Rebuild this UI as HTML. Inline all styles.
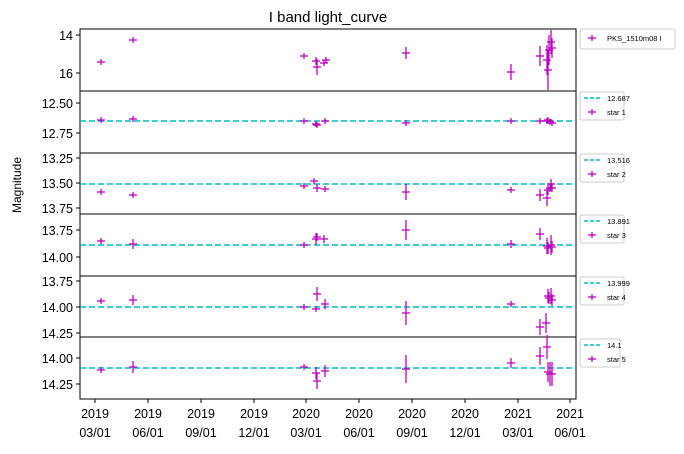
<!DOCTYPE html><html><head><style>body{margin:0;background:#fff}svg text{font-family:"Liberation Sans","DejaVu Sans",sans-serif}</style></head><body>
<svg width="684" height="449" xmlns="http://www.w3.org/2000/svg" font-size="13">
<text x="328" y="22" text-anchor="middle" font-size="15">I band light_curve</text>
<text transform="translate(21,185) rotate(-90)" text-anchor="middle" font-size="12">Magnitude</text>
<g stroke="#000" fill="none" stroke-width="1">
<rect x="80" y="29" width="496" height="62"/><rect x="80" y="91" width="496" height="62"/><rect x="80" y="153" width="496" height="61"/><rect x="80" y="214" width="496" height="62"/><rect x="80" y="276" width="496" height="61"/><rect x="80" y="337" width="496" height="62"/>
</g>
<g stroke="#00bfbf" stroke-width="1.5" stroke-dasharray="6,3">
<line x1="80" x2="576" y1="121" y2="121"/><line x1="80" x2="576" y1="184" y2="184"/><line x1="80" x2="576" y1="245" y2="245"/><line x1="80" x2="576" y1="307" y2="307"/><line x1="80" x2="576" y1="368" y2="368"/>
</g>
<g stroke="#000">
<line x1="76" x2="80" y1="35" y2="35"/><line x1="76" x2="80" y1="73" y2="73"/>
<line x1="76" x2="80" y1="103" y2="103"/><line x1="76" x2="80" y1="133" y2="133"/>
<line x1="76" x2="80" y1="158" y2="158"/><line x1="76" x2="80" y1="183" y2="183"/><line x1="76" x2="80" y1="208" y2="208"/>
<line x1="76" x2="80" y1="230" y2="230"/><line x1="76" x2="80" y1="257" y2="257"/>
<line x1="76" x2="80" y1="281" y2="281"/><line x1="76" x2="80" y1="307" y2="307"/><line x1="76" x2="80" y1="333" y2="333"/>
<line x1="76" x2="80" y1="358" y2="358"/><line x1="76" x2="80" y1="384" y2="384"/>
</g>
<g text-anchor="end" font-size="12.5">
<text x="73" y="40">14</text><text x="73" y="78">16</text>
<text x="73" y="108">12.50</text><text x="73" y="138">12.75</text>
<text x="73" y="163">13.25</text><text x="73" y="188">13.50</text><text x="73" y="213">13.75</text>
<text x="73" y="235">13.75</text><text x="73" y="262">14.00</text>
<text x="73" y="286">13.75</text><text x="73" y="312">14.00</text><text x="73" y="338">14.25</text>
<text x="73" y="363">14.00</text><text x="73" y="389">14.25</text>
</g>
<g stroke="#000">
<line x1="95" x2="95" y1="399" y2="403"/><line x1="148" x2="148" y1="399" y2="403"/><line x1="201" x2="201" y1="399" y2="403"/><line x1="254" x2="254" y1="399" y2="403"/><line x1="306" x2="306" y1="399" y2="403"/><line x1="359" x2="359" y1="399" y2="403"/><line x1="412" x2="412" y1="399" y2="403"/><line x1="465" x2="465" y1="399" y2="403"/><line x1="518" x2="518" y1="399" y2="403"/><line x1="570" x2="570" y1="399" y2="403"/>
</g>
<g text-anchor="middle" font-size="12.5">
<text x="95" y="418">2019</text><text x="95" y="437">03/01</text>
<text x="148" y="418">2019</text><text x="148" y="437">06/01</text>
<text x="201" y="418">2019</text><text x="201" y="437">09/01</text>
<text x="254" y="418">2019</text><text x="254" y="437">12/01</text>
<text x="306" y="418">2020</text><text x="306" y="437">03/01</text>
<text x="359" y="418">2020</text><text x="359" y="437">06/01</text>
<text x="412" y="418">2020</text><text x="412" y="437">09/01</text>
<text x="465" y="418">2020</text><text x="465" y="437">12/01</text>
<text x="518" y="418">2021</text><text x="518" y="437">03/01</text>
<text x="570" y="418">2021</text><text x="570" y="437">06/01</text>
</g>
<g font-size="7.5">
<rect x="580" y="29" width="95" height="20" fill="#fff" stroke="#ccc" rx="2"/>
<text x="607" y="41">PKS_1510m08 I</text>
<rect x="580" y="92" width="44" height="28" fill="#fff" stroke="#ccc" rx="2"/>
<rect x="580" y="154" width="44" height="28" fill="#fff" stroke="#ccc" rx="2"/>
<rect x="580" y="215" width="44" height="28" fill="#fff" stroke="#ccc" rx="2"/>
<rect x="580" y="277" width="44" height="28" fill="#fff" stroke="#ccc" rx="2"/>
<rect x="580" y="339" width="40" height="28" fill="#fff" stroke="#ccc" rx="2"/>
<text x="607" y="101">12.687</text><text x="607" y="115">star 1</text>
<text x="607" y="163">13.516</text><text x="607" y="177">star 2</text>
<text x="607" y="224">13.891</text><text x="607" y="238">star 3</text>
<text x="607" y="286">13.999</text><text x="607" y="300">star 4</text>
<text x="607" y="348">14.1</text><text x="607" y="362">star 5</text>
</g>
<g stroke="#00bfbf" stroke-width="1.5" stroke-dasharray="4,2">
<line x1="584" x2="600" y1="98" y2="98"/><line x1="584" x2="600" y1="160" y2="160"/><line x1="584" x2="600" y1="221" y2="221"/><line x1="584" x2="600" y1="283" y2="283"/><line x1="584" x2="600" y1="345" y2="345"/>
</g>
<g id="pts" stroke="#bf00bf" stroke-width="1.3"></g>
</svg>
<script>
var P=[
[[101,62,2],[133,40,2],[304,56,2],[316,61,4],[317,67,8],[324,63,3],[326,60,3],[406,53,6],[511,72,8],[540,56,10],[547,60,15],[548,70,20],[549,50,15],[551,42,12],[552,48,10],[592,38,3]],
[[101,120,2],[133,119,2],[304,121,2],[316,124,2],[317,125,2],[325,121,2],[406,123,2],[511,121,2],[540,121,2],[547,121,2],[548,120,2],[550,122,2],[552,123,2],[592,112,3]],
[[101,192,2],[133,195,2],[304,186,2],[314,181,2],[317,188,4],[325,189,3],[406,192,8],[511,190,2],[540,195,6],[547,198,8],[548,190,5],[550,188,4],[551,184,5],[552,188,4],[592,174,3]],
[[101,241,2],[133,244,5],[304,245,2],[316,239,6],[317,237,4],[324,239,4],[406,230,10],[511,244,4],[540,234,6],[547,246,8],[548,248,6],[551,245,10],[552,247,6],[592,235,3]],
[[101,301,2],[133,300,5],[304,307,2],[316,309,2],[317,294,7],[325,304,5],[406,313,12],[511,304,3],[540,327,8],[546,323,10],[548,296,7],[549,298,6],[551,296,8],[552,300,6],[592,297,3]],
[[101,370,2],[133,367,6],[304,367,2],[316,373,6],[317,381,8],[325,371,6],[406,369,14],[511,363,5],[540,356,9],[547,347,12],[548,372,10],[550,374,12],[552,374,12],[592,359,3]]];
var g=document.getElementById('pts'),s='';
P.forEach(function(a){a.forEach(function(p){s+='<line x1="'+(p[0]-4)+'" x2="'+(p[0]+4)+'" y1="'+p[1]+'" y2="'+p[1]+'"/><line x1="'+p[0]+'" x2="'+p[0]+'" y1="'+(p[1]-Math.max(p[2],3))+'" y2="'+(p[1]+Math.max(p[2],3))+'"/>';});});
g.innerHTML=s;
</script>
</body></html>
